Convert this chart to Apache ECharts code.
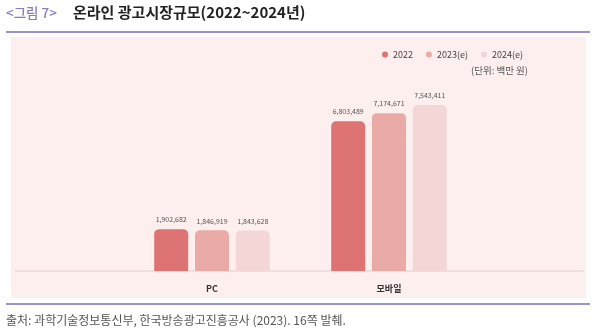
<!DOCTYPE html>
<html>
<head>
<meta charset="utf-8">
<script src="https://cdn.jsdelivr.net/npm/echarts@6/dist/echarts.min.js"></script>
<style>
html,body{margin:0;padding:0;background:#fff;}
#c{width:593px;height:331px;}
</style>
</head>
<body>
<div id="c"></div>
<script>
var categories = ['PC', '모바일'];
var seriesNames = ['2022', '2023(e)', '2024(e)'];
var values2022 = [1902682, 6803489];
var values2023 = [1846919, 7174671];
var values2024 = [1843628, 7543411];
var seriesColors = ['#dd7372', '#eaaaa5', '#f4d6d7'];

var FONT = '"Noto Sans CJK KR", "Noto Sans", sans-serif';
var chart = echarts.init(document.getElementById('c'), null, {renderer: 'canvas'});

function fmt(v) { return v.toLocaleString('en-US'); }

var allValues = [values2022, values2023, values2024];
var series = allValues.map(function (vals, i) {
  return {
    name: seriesNames[i],
    type: 'bar',
    data: vals,
    barWidth: 34,
    barGap: '20%',
    itemStyle: {color: seriesColors[i], borderRadius: [5, 5, 0, 0]},
    label: {
      show: true, position: 'top', distance: 6,
      formatter: function (p) { return fmt(p.value); },
      fontSize: 7, color: '#555', fontFamily: FONT
    },
    z: 5
  };
});

chart.setOption({
  animation: false,
  backgroundColor: '#ffffff',
  textStyle: {fontFamily: FONT},
  graphic: [
    {type: 'rect', shape: {x: 11, y: 37, width: 575, height: 261}, style: {fill: '#fdefee'}, z: -10},
    {type: 'rect', shape: {x: 6, y: 31, width: 584, height: 2}, style: {fill: '#9d91c6'}, z: -5},
    {type: 'rect', shape: {x: 6, y: 303, width: 584, height: 2}, style: {fill: '#9d91c6'}, z: -5},
    {type: 'rect', shape: {x: 15, y: 270.5, width: 569, height: 1}, style: {fill: '#e3cdcf'}, z: -4},
    {type: 'text', left: 6, top: 6, style: {text: '<그림 7>', fontSize: 13.5, fontWeight: 500, fill: '#8d7cbc', fontFamily: FONT}},
    {type: 'text', left: 73, top: 5, style: {text: '온라인 광고시장규모(2022~2024년)', fontSize: 15, fontWeight: 'bold', fill: '#222', fontFamily: FONT}},
    {type: 'text', left: 471, top: 66, style: {text: '(단위: 백만 원)', fontSize: 9.5, fill: '#555', fontFamily: FONT}},
    {type: 'text', left: 6, top: 314, style: {text: '출처: 과학기술정보통신부, 한국방송광고진흥공사 (2023). 16쪽 발췌.', fontSize: 12, fill: '#555', fontFamily: FONT}}
  ],
  legend: {
    data: seriesNames,
    left: 377, top: 45,
    icon: 'circle', itemWidth: 6, itemHeight: 6, itemGap: 13,
    textStyle: {fontSize: 9, color: '#444', fontFamily: FONT}
  },
  grid: {left: 123.5, right: 115.5, top: 51, bottom: 60},
  xAxis: {
    type: 'category', data: categories,
    axisLine: {show: false}, axisTick: {show: false},
    axisLabel: {margin: 13, fontSize: 9, fontWeight: 'bold', color: '#333', fontFamily: FONT}
  },
  yAxis: {type: 'value', min: 0, max: 10000000, show: false, splitLine: {show: false}},
  series: series
});
</script>
</body>
</html>
